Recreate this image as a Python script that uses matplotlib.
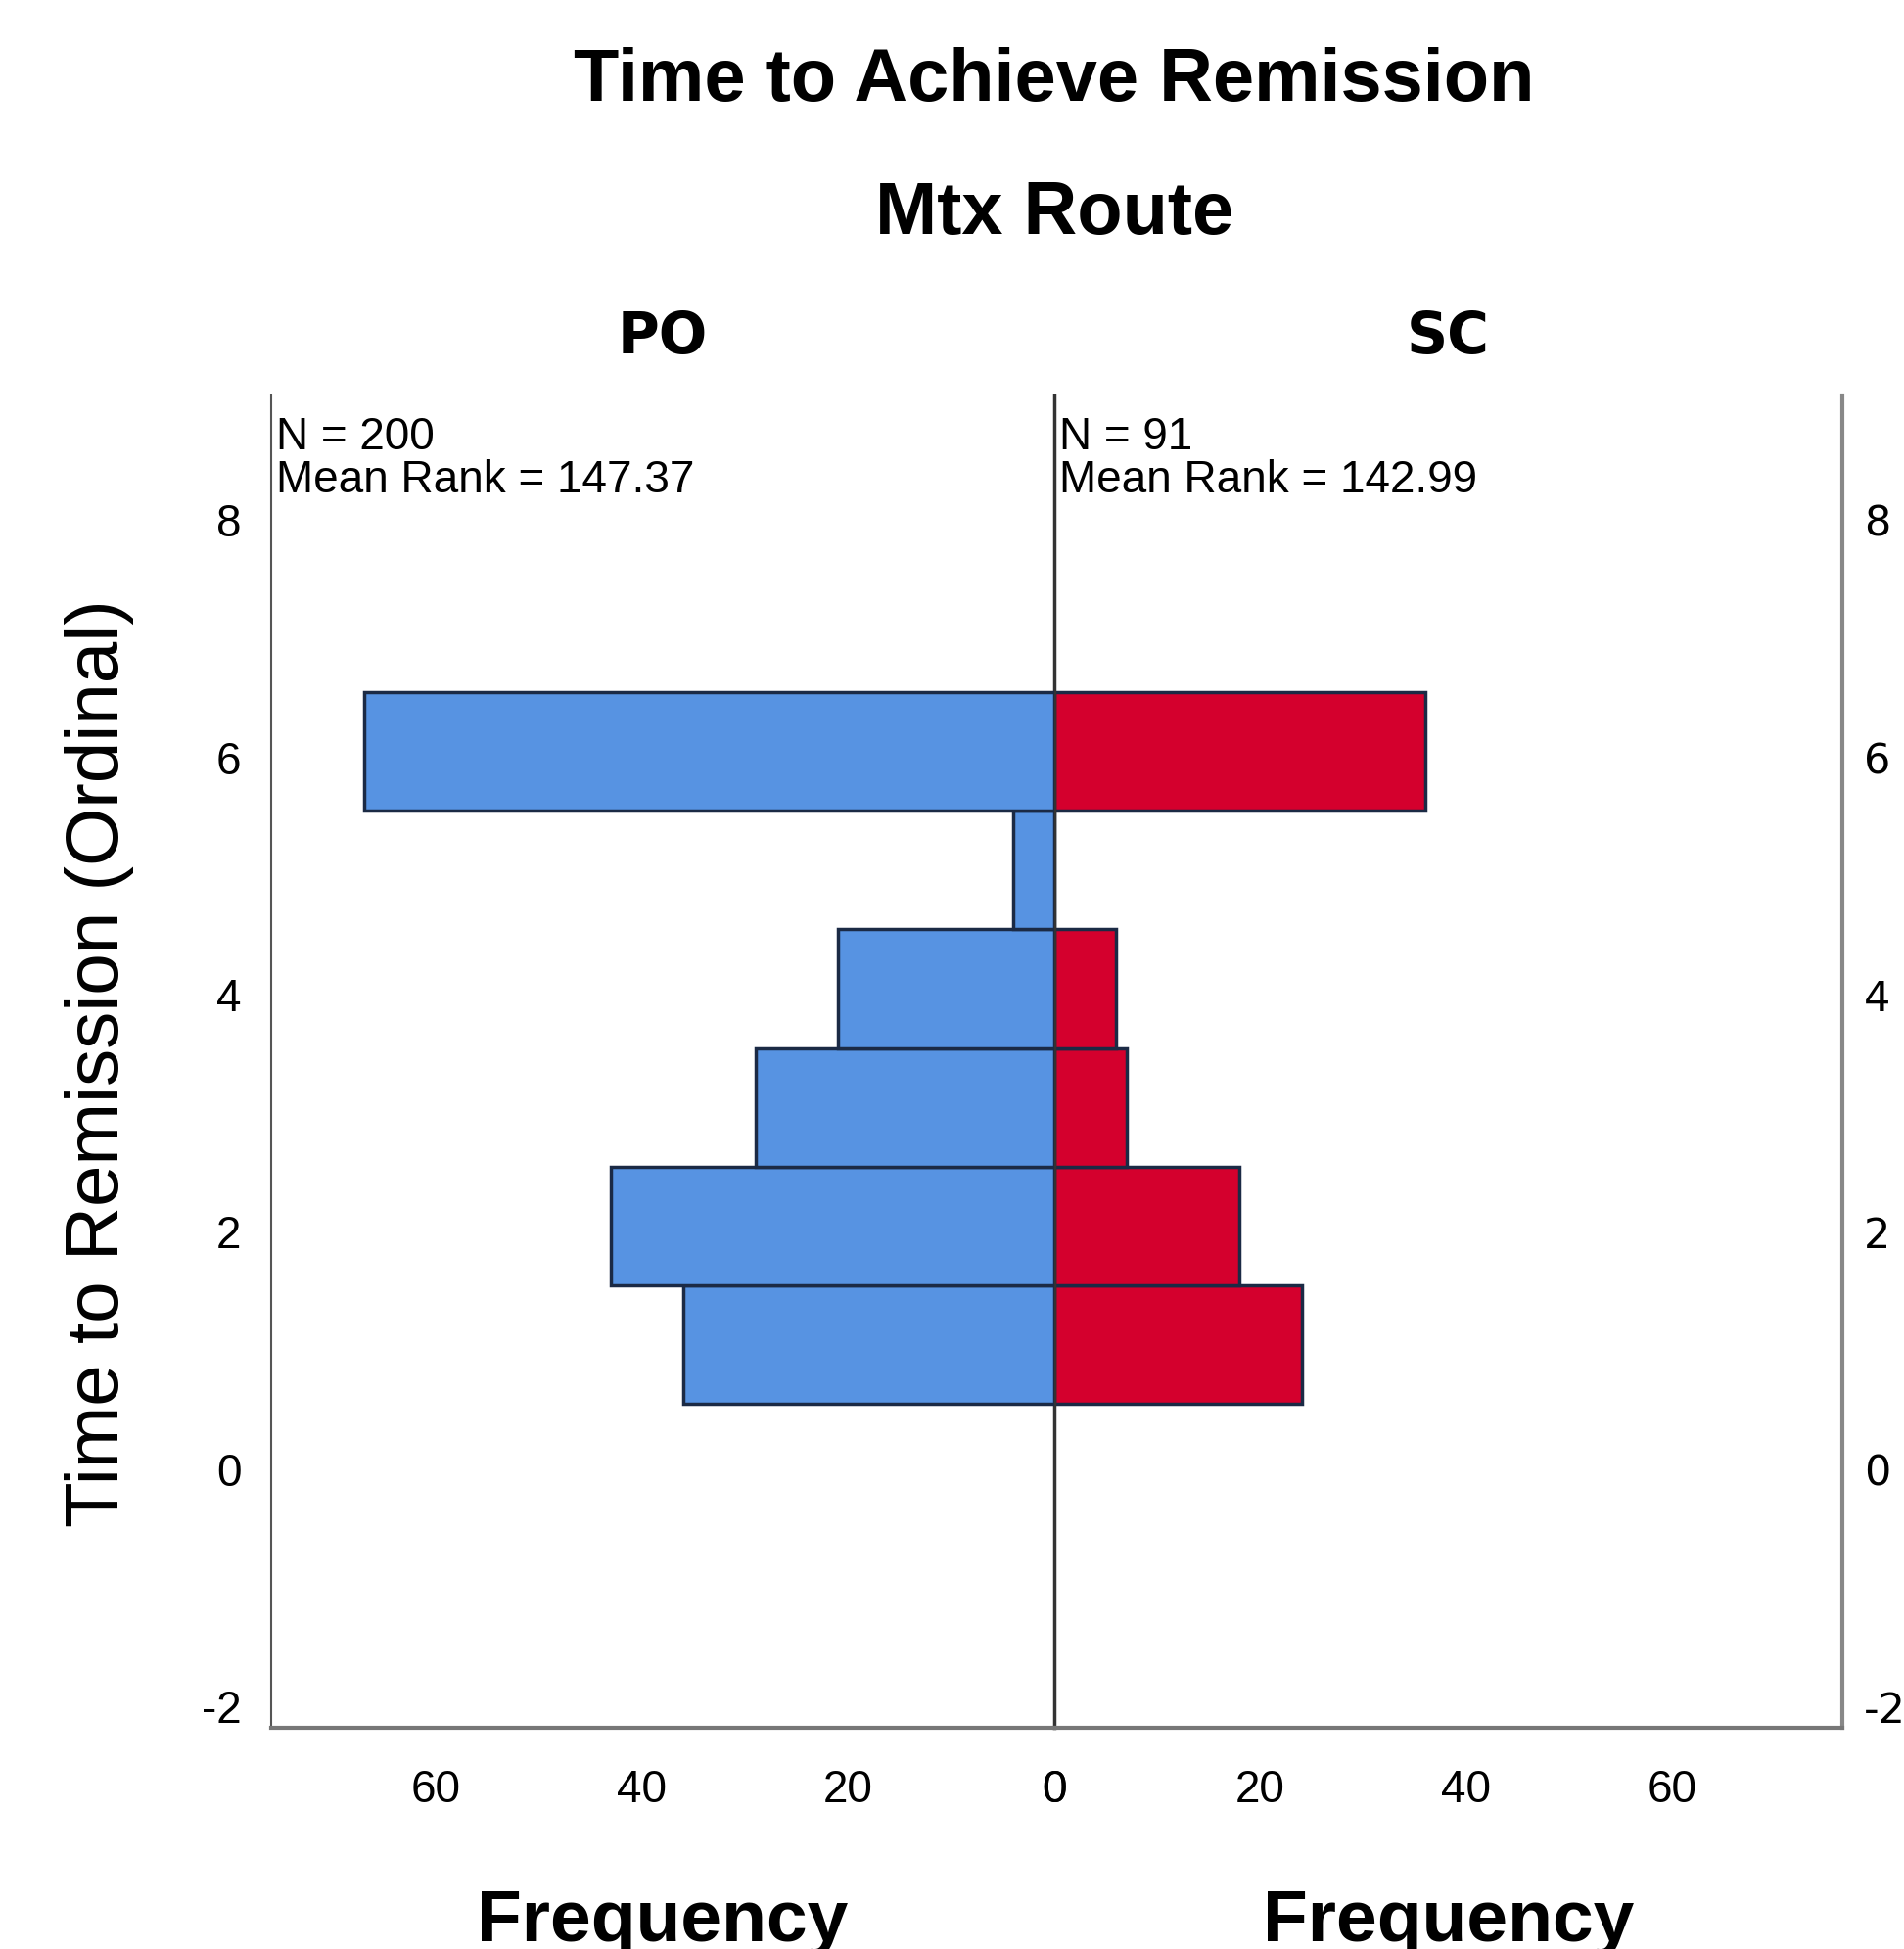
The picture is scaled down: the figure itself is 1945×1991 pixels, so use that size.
import numpy as np
import matplotlib
matplotlib.use('Agg')
import matplotlib.pyplot as plt

plt.rcParams['axes.unicode_minus'] = False

# data
levels = [1, 2, 3, 4, 5, 6]
po_counts = [36, 43, 29, 21, 4, 67]
sc_counts = [24, 18, 7, 6, 0, 36]
groups = ['PO', 'SC']
notes = ['N = 200\nMean Rank = 147.37', 'N = 91\nMean Rank = 142.99']
yticks = [-2, 0, 2, 4, 6, 8]
xticks = [0, 20, 40, 60]

blue = '#5793e2'
red = '#d4002d'
edge = '#1b2a45'

fig = plt.figure(figsize=(19.45, 19.91), dpi=100)
axl = fig.add_axes([0.1424, 0.1135, 0.4113, 0.6835])
axr = fig.add_axes([0.5537, 0.1135, 0.4139, 0.6835])

ypos = np.array(levels) + 0.05  # SPSS bins sit a hair above the integers
axl.barh(ypos, po_counts, height=1.0, color=blue, edgecolor=edge, linewidth=2.5)
axr.barh(ypos, sc_counts, height=1.0, color=red, edgecolor=edge, linewidth=2.5)

axl.set_xlim(76, 0)
axr.set_xlim(0, 76.5)
for ax in (axl, axr):
    ax.set_ylim(-2.18, 9.05)
    ax.set_yticks(yticks)
    ax.set_xticks(xticks)
    ax.tick_params(length=0, pad=30)
    ax.spines['top'].set_visible(False)
    ax.spines['bottom'].set_color('#777777')
    ax.spines['bottom'].set_linewidth(3)
    for lab in ax.get_xticklabels():
        lab.set_family('Liberation Sans')
        lab.set_fontsize(33)

axl.spines['right'].set_visible(False)
axl.spines['left'].set_color('#555555')
axl.spines['left'].set_linewidth(1.5)
axl.tick_params(axis='y', pad=22)
for lab in axl.get_yticklabels():
    lab.set_family('Liberation Sans')
    lab.set_fontsize(33)

axr.spines['left'].set_color('#333333')
axr.spines['left'].set_linewidth(2.5)
axr.spines['right'].set_color('#888888')
axr.spines['right'].set_linewidth(3)
axr.yaxis.tick_right()
axr.tick_params(axis='y', pad=16)
for lab in axr.get_yticklabels():
    lab.set_family('DejaVu Sans')
    lab.set_fontsize(31)

axl.set_zorder(2)
axl.patch.set_alpha(0)

for ax, g, n in zip((axl, axr), groups, notes):
    ax.text(0.006, 0.985, n, transform=ax.transAxes, ha='left', va='top',
            fontsize=33, family='Liberation Sans', linespacing=1.0)
    ax.text(0.5, 1.0435, g, transform=ax.transAxes, ha='center', va='center',
            fontsize=42, fontweight='bold', family='DejaVu Sans')
    ax.text(0.5, -0.160, 'Frequency', transform=ax.transAxes, ha='center',
            va='baseline', fontsize=54, fontweight='bold', family='Liberation Sans')

fig.text(0.5537, 0.958, 'Time to Achieve Remission', ha='center', va='center',
         fontsize=54.5, fontweight='bold', family='Liberation Sans')
fig.text(0.5537, 0.89, 'Mtx Route', ha='center', va='center',
         fontsize=54.5, fontweight='bold', family='Liberation Sans')
fig.text(0.052, 0.4545, 'Time to Remission (Ordinal)', rotation=90, ha='center',
         va='center', fontsize=55, family='Liberation Sans')

fig.savefig('out.png', dpi=100)
